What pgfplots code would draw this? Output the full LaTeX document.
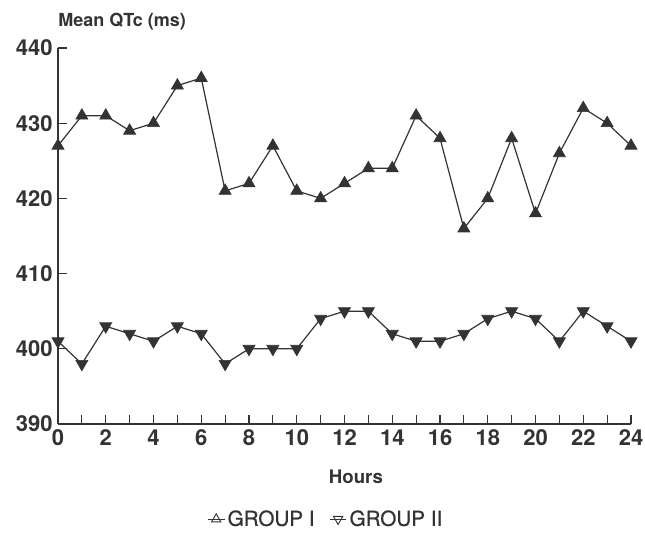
\documentclass[border=0pt]{standalone}
\usepackage{fontspec}
\setmainfont{TeX Gyre Heros}
\usepackage{pgfplots}
\pgfplotsset{compat=1.18}
\definecolor{ink}{HTML}{333333}
\begin{document}
\begin{tikzpicture}
\begin{axis}[
  name=ax,
  scale only axis,
  width=429.75pt, height=282pt,
  xmin=0, xmax=24, ymin=390, ymax=440,
  axis x line*=bottom, axis y line*=left,
  axis line style={ink, line width=0.9pt, -},
  xtick={0,2,...,24}, minor xtick={1,3,...,23},
  ytick={390,400,...,440},
  tick style={ink, line width=0.8pt},
  major tick length=6.5pt, minor tick length=6.5pt,
  tick align=inside,
  /pgf/number format/assume math mode=true,
  ticklabel style={font=\fontsize{16.5}{18}\selectfont\bfseries, text=ink},
  xticklabel style={yshift=-1pt},
  yticklabel style={xshift=-0.5pt},
  xlabel={Hours},
  xlabel style={font=\fontsize{14}{16}\selectfont\bfseries, text=ink, at={(rel axis cs:0.52,0)}, anchor=center, yshift=-39.75pt},
  ylabel={Mean QTc (ms)},
  ylabel style={font=\fontsize{13.5}{15}\selectfont\bfseries, text=ink, rotate=-90, at={(rel axis cs:0,1)}, anchor=west, inner sep=0pt, xshift=0pt, yshift=19.5pt},
  legend style={at={(axis description cs:0.468,-0.253)}, anchor=center, draw=none, fill=none, legend columns=2, font=\fontsize{15.5}{17}\selectfont\addfontfeatures{FakeBold=0.8}, text=ink, /tikz/every even column/.append style={column sep=9pt}},
  legend image code/.code={\draw[mark repeat=2,mark phase=2,#1] plot coordinates {(0cm,0cm) (0.22cm,0cm) (0.44cm,0cm)};},
  clip=false,
]
\addplot[ink, line width=0.9pt, mark=triangle*, mark size=5.2pt, mark options={fill=ink, draw=ink, line width=0.5pt}, forget plot] coordinates {
(0,427)(1,431)(2,431)(3,429)(4,430)(5,435)(6,436)(7,421)(8,422)(9,427)(10,421)(11,420)(12,422)(13,424)(14,424)(15,431)(16,428)(17,416)(18,420)(19,428)(20,418)(21,426)(22,432)(23,430)(24,427)};
\addplot[ink, line width=0.9pt, mark=triangle*, mark size=5.2pt, mark options={fill=ink, draw=ink, line width=0.5pt, rotate=180}, forget plot] coordinates {
(0,401)(1,398)(2,403)(3,402)(4,401)(5,403)(6,402)(7,398)(8,400)(9,400)(10,400)(11,404)(12,405)(13,405)(14,402)(15,401)(16,401)(17,402)(18,404)(19,405)(20,404)(21,401)(22,405)(23,403)(24,401)};
\addlegendimage{ink, line width=0.7pt, mark=triangle, mark size=4pt, mark options={line width=0.7pt}}
\addlegendentry{GROUP I}
\addlegendimage{ink, line width=0.7pt, mark=triangle, mark size=4pt, mark options={line width=0.7pt, rotate=180}}
\addlegendentry{GROUP II}
\end{axis}
\pgfresetboundingbox
\path[use as bounding box] ([xshift=-43.5pt, yshift=-82.5pt]ax.south west) rectangle ([xshift=440.25pt, yshift=318pt]ax.south west);
\end{tikzpicture}
\end{document}
